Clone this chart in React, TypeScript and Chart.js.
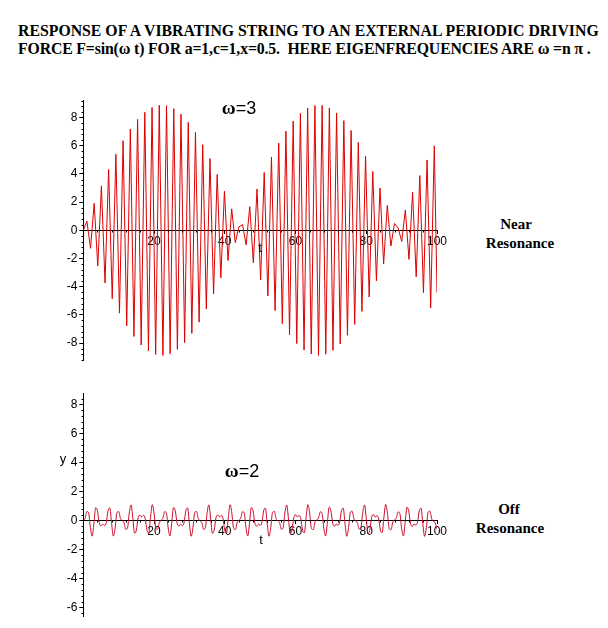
import React, { useEffect, useRef } from "react";
import { Chart, registerables } from "chart.js";

Chart.register(...registerables);

// ---------- data ----------
// Near resonance (omega = 3): successive extremes of the response
const TOP_T = [0, 1.02, 2.05, 3.07, 4.09, 5.12, 6.14, 7.16, 8.18, 9.21, 10.23, 11.25, 12.28, 13.3, 14.32, 15.35, 16.37, 17.39, 18.42, 19.44, 20.46, 21.48, 22.51, 23.53, 24.55, 25.58, 26.6, 27.62, 28.65, 29.67, 30.69, 31.71, 32.74, 33.76, 34.78, 35.81, 36.83, 37.85, 38.88, 39.9, 40.92, 41.95, 42.97, 43.99, 45.01, 46.04, 47.06, 48.08, 49.11, 50.13, 51.15, 52.18, 53.2, 54.22, 55.25, 56.27, 57.29, 58.31, 59.34, 60.36, 61.38, 62.41, 63.43, 64.45, 65.48, 66.5, 67.52, 68.55, 69.57, 70.59, 71.61, 72.64, 73.66, 74.68, 75.71, 76.73, 77.75, 78.78, 79.8, 80.82, 81.84, 82.87, 83.89, 84.91, 85.94, 86.96, 87.98, 89.01, 90.03, 91.05, 92.08, 93.1, 94.12, 95.14, 96.17, 97.19, 98.21, 99.24, 100];
const TOP_Y = [0, 0.64, -1.28, 1.91, -2.54, 3.15, -3.74, 4.31, -4.86, 5.39, -5.88, 6.35, -6.78, 7.18, -7.54, 7.86, -8.14, 8.37, -8.56, 8.71, -8.81, 8.87, -8.88, 8.84, -8.76, 8.63, -8.45, 8.23, -7.97, 7.66, -7.32, 6.94, -6.52, 6.07, -5.59, 5.08, -4.52, 3.96, -3.37, 2.77, -2.15, 1.52, -0.88, 0.24, 0.4, -1.04, 1.68, -2.31, 2.92, -3.52, 4.1, -4.66, 5.19, -5.7, 6.18, -6.63, 7.03, -7.41, 7.74, -8.04, 8.29, -8.5, 8.66, -8.78, 8.85, -8.88, 8.86, -8.79, 8.68, -8.52, 8.32, -8.07, 7.78, -7.45, 7.08, -6.68, 6.24, -5.76, 5.26, -4.74, 4.17, -3.59, 3.0, -2.39, 1.76, -1.12, 0.48, 0.16, -0.8, 1.44, -2.07, 2.7, -3.3, 3.88, -4.44, 4.99, -5.51, 5.99, -4.43];

// Off resonance (omega = 2): samples every half unit of t
const BOTTOM_T = [0, 0.5, 1, 1.5, 2, 2.5, 3, 3.5, 4, 4.5, 5, 5.5, 6, 6.5, 7, 7.5, 8, 8.5, 9, 9.5, 10, 10.5, 11, 11.5, 12, 12.5, 13, 13.5, 14, 14.5, 15, 15.5, 16, 16.5, 17, 17.5, 18, 18.5, 19, 19.5, 20, 20.5, 21, 21.5, 22, 22.5, 23, 23.5, 24, 24.5, 25, 25.5, 26, 26.5, 27, 27.5, 28, 28.5, 29, 29.5, 30, 30.5, 31, 31.5, 32, 32.5, 33, 33.5, 34, 34.5, 35, 35.5, 36, 36.5, 37, 37.5, 38, 38.5, 39, 39.5, 40, 40.5, 41, 41.5, 42, 42.5, 43, 43.5, 44, 44.5, 45, 45.5, 46, 46.5, 47, 47.5, 48, 48.5, 49, 49.5, 50, 50.5, 51, 51.5, 52, 52.5, 53, 53.5, 54, 54.5, 55, 55.5, 56, 56.5, 57, 57.5, 58, 58.5, 59, 59.5, 60, 60.5, 61, 61.5, 62, 62.5, 63, 63.5, 64, 64.5, 65, 65.5, 66, 66.5, 67, 67.5, 68, 68.5, 69, 69.5, 70, 70.5, 71, 71.5, 72, 72.5, 73, 73.5, 74, 74.5, 75, 75.5, 76, 76.5, 77, 77.5, 78, 78.5, 79, 79.5, 80, 80.5, 81, 81.5, 82, 82.5, 83, 83.5, 84, 84.5, 85, 85.5, 86, 86.5, 87, 87.5, 88, 88.5, 89, 89.5, 90, 90.5, 91, 91.5, 92, 92.5, 93, 93.5, 94, 94.5, 95, 95.5, 96, 96.5, 97, 97.5, 98, 98.5, 99, 99.5, 100];
const BOTTOM_Y = [
  0, 0.14, 0.62, 0.53, -0.51, -1.08, -0.19, 0.88, 0.67, -0.15,
  -0.37, -0.25, -0.36, -0.14, 0.67, 0.87, -0.2, -1.08, -0.51, 0.53,
  0.62, 0.14, -0.01, -0.15, -0.62, -0.52, 0.52, 1.08, 0.18, -0.88,
  -0.67, 0.16, 0.37, 0.25, 0.36, 0.14, -0.67, -0.87, 0.2, 1.09,
  0.51, -0.54, -0.62, -0.14, 0.01, 0.15, 0.61, 0.51, -0.52, -1.08,
  -0.18, 0.89, 0.67, -0.16, -0.38, -0.25, -0.35, -0.13, 0.68, 0.86,
  -0.21, -1.09, -0.5, 0.54, 0.63, 0.13, -0.02, -0.15, -0.61, -0.51,
  0.53, 1.08, 0.17, -0.89, -0.67, 0.17, 0.38, 0.25, 0.35, 0.13,
  -0.68, -0.86, 0.21, 1.09, 0.5, -0.55, -0.63, -0.13, 0.02, 0.15,
  0.61, 0.5, -0.53, -1.07, -0.17, 0.89, 0.67, -0.17, -0.39, -0.25,
  -0.34, -0.12, 0.68, 0.85, -0.22, -1.09, -0.49, 0.56, 0.63, 0.13,
  -0.03, -0.16, -0.61, -0.5, 0.53, 1.07, 0.16, -0.9, -0.67, 0.18,
  0.4, 0.25, 0.34, 0.12, -0.68, -0.85, 0.22, 1.09, 0.49, -0.56,
  -0.63, -0.12, 0.04, 0.16, 0.6, 0.49, -0.54, -1.07, -0.16, 0.9,
  0.67, -0.18, -0.4, -0.25, -0.33, -0.11, 0.68, 0.84, -0.23, -1.09,
  -0.49, 0.57, 0.64, 0.12, -0.04, -0.17, -0.6, -0.48, 0.54, 1.07,
  0.15, -0.91, -0.67, 0.19, 0.41, 0.25, 0.33, 0.11, -0.68, -0.84,
  0.24, 1.1, 0.48, -0.57, -0.64, -0.12, 0.05, 0.17, 0.6, 0.48,
  -0.55, -1.07, -0.14, 0.91, 0.67, -0.19, -0.41, -0.25, -0.32, -0.1,
  0.68, 0.84, -0.24, -1.1, -0.48, 0.58, 0.64, 0.11, -0.05, -0.17,
  -0.6,
];

const X_TICKS = [20, 40, 60, 80, 100];
const TOP_Y_TICKS = [-8, -6, -4, -2, 0, 2, 4, 6, 8];
const BOTTOM_Y_TICKS = [-6, -4, -2, 0, 2, 4, 6, 8];

// ---------- styling ----------
const OFFSET = 8; // body margin
const TICK_FONT = { family: "'Liberation Sans', Arial, sans-serif", size: 12 };
const SERIF = "'Liberation Serif', 'Times New Roman', serif";
const SANS = "'Liberation Sans', Arial, sans-serif";

const minorTicksPlugin = {
  id: "minorTicks",
  afterDraw(chart: any, _args: any, opts: any) {
    const { ctx, scales, chartArea } = chart;
    const xs = scales.x;
    const ys = scales.y;
    const ax = Math.round(chartArea.left) + 0.5;
    const ay = Math.round(ys.getPixelForValue(0)) + 0.5;
    ctx.save();
    ctx.strokeStyle = "#000";
    ctx.lineWidth = 1;
    ctx.beginPath();
    const yStep = opts.yStep as number;
    for (let v = Math.ceil(ys.min / yStep) * yStep; v <= ys.max; v += yStep) {
      const r = Math.round(v * 10) / 10;
      if (Math.abs(r / 2 - Math.round(r / 2)) < 1e-6) continue;
      const py = Math.round(ys.getPixelForValue(r)) + 0.5;
      ctx.moveTo(ax - 2, py);
      ctx.lineTo(ax, py);
    }
    const xStep = opts.xStep as number;
    for (let v = xStep; v < xs.max; v += xStep) {
      if (v % 20 === 0) continue;
      const px = Math.round(xs.getPixelForValue(v)) + 0.5;
      ctx.moveTo(px, ay);
      ctx.lineTo(px, ay + 2);
    }
    ctx.stroke();
    ctx.restore();
  },
};

type Box = { left: number; top: number; width: number; height: number };
type Area = { left: number; top: number; right: number; bottom: number };

function Plot(props: {
  xs: number[];
  ys: number[];
  yMin: number;
  yMax: number;
  yTicks: number[];
  color: string;
  smooth: boolean;
  box: Box;
  area: Area;
}) {
  const ref = useRef<HTMLCanvasElement>(null);
  const { box } = props;
  useEffect(() => {
    const p = props;
    const chart = new Chart(ref.current as HTMLCanvasElement, {
      type: "line",
      data: {
        datasets: [
          {
            data: p.xs.map((x, i) => ({ x, y: p.ys[i] })),
            borderColor: p.color,
            borderWidth: 1,
            pointRadius: 0,
            fill: false,
            tension: p.smooth ? 0.4 : 0,
            cubicInterpolationMode: p.smooth ? "monotone" : "default",
          } as any,
        ],
      },
      options: {
        animation: false,
        responsive: false,
        events: [],
        layout: {
          padding: {
            left: 0,
            top: p.area.top - p.box.top,
            right: p.box.left + p.box.width - p.area.right,
            bottom: p.box.top + p.box.height - p.area.bottom,
          },
        },
        plugins: {
          legend: { display: false },
          tooltip: { enabled: false },
          minorTicks: { yStep: 0.4, xStep: 4 },
        } as any,
        scales: {
          x: {
            type: "linear",
            min: 0,
            max: 100,
            position: { y: 0 } as any,
            afterBuildTicks: (s: any) => {
              s.ticks = X_TICKS.map((v) => ({ value: v }));
            },
            ticks: { font: TICK_FONT, color: "#000", padding: 1, maxRotation: 0, autoSkip: false },
            grid: { drawOnChartArea: false, tickLength: 3, color: "#000" },
            border: { color: "#000", width: 1 },
          },
          y: {
            type: "linear",
            min: p.yMin,
            max: p.yMax,
            position: "left",
            afterBuildTicks: (s: any) => {
              s.ticks = p.yTicks.map((v) => ({ value: v }));
            },
            afterFit: (s: any) => {
              s.width = p.area.left - p.box.left;
            },
            ticks: { font: TICK_FONT, color: "#000", padding: 2, autoSkip: false },
            grid: { drawOnChartArea: false, tickLength: 4, color: "#000" },
            border: { color: "#000", width: 1 },
          },
        },
      },
      plugins: [minorTicksPlugin],
    });
    return () => chart.destroy();
  }, []);
  return (
    <canvas
      ref={ref}
      width={box.width}
      height={box.height}
      style={{
        position: "absolute",
        left: box.left - OFFSET,
        top: box.top - OFFSET,
        width: box.width,
        height: box.height,
      }}
    />
  );
}

function Label(props: { x: number; y: number; children: React.ReactNode; style?: React.CSSProperties }) {
  return (
    <div
      style={{
        position: "absolute",
        left: props.x - OFFSET,
        top: props.y - OFFSET,
        transform: "translate(-50%, -50%)",
        whiteSpace: "nowrap",
        lineHeight: 1,
        ...props.style,
      }}
    >
      {props.children}
    </div>
  );
}

const bold15: React.CSSProperties = { fontFamily: SERIF, fontWeight: "bold", fontSize: 15, color: "#000" };
const omegaStyle: React.CSSProperties = { fontFamily: SERIF, fontWeight: "bold", fontSize: 19 };
const eqStyle: React.CSSProperties = { fontFamily: SANS, fontSize: 18 };

export default function App() {
  return (
    <div style={{ position: "relative", width: 592, height: 612, background: "#fff" }}>
      <div
        style={{
          position: "absolute",
          left: 18 - OFFSET,
          top: 22 - OFFSET,
          fontFamily: SERIF,
          fontWeight: "bold",
          fontSize: 15.8,
          lineHeight: "18px",
          whiteSpace: "pre",
          color: "#000",
        }}
      >
        <div>RESPONSE OF A VIBRATING STRING TO AN EXTERNAL PERIODIC DRIVING</div>
        <div style={{ letterSpacing: -0.15 }}>
          FORCE F=sin(<span style={{ fontSize: 16 }}>ω</span> t) FOR a=1,c=1,x=0.5.{"  "}HERE EIGENFREQUENCIES ARE{" "}
          <span style={{ fontSize: 16 }}>ω</span> =n <span style={{ fontSize: 16 }}>π</span> .
        </div>
      </div>

      <Plot
        xs={TOP_T}
        ys={TOP_Y}
        yMin={-9.24}
        yMax={9.24}
        yTicks={TOP_Y_TICKS}
        color="#dc0000"
        smooth={false}
        box={{ left: 30, top: 88, width: 440, height: 292 }}
        area={{ left: 83.3, top: 100, right: 437, bottom: 360.5 }}
      />
      <Plot
        xs={BOTTOM_T}
        ys={BOTTOM_Y}
        yMin={-6.65}
        yMax={8.8}
        yTicks={BOTTOM_Y_TICKS}
        color="#cc0a2a"
        smooth={true}
        box={{ left: 30, top: 380, width: 440, height: 246 }}
        area={{ left: 83.3, top: 393, right: 437, bottom: 617 }}
      />

      <Label x={239} y={107}>
        <span style={omegaStyle}>ω</span>
        <span style={eqStyle}>=3</span>
      </Label>
      <Label x={242} y={470}>
        <span style={omegaStyle}>ω</span>
        <span style={eqStyle}>=2</span>
      </Label>

      <Label x={516} y={224} style={bold15}>Near</Label>
      <Label x={520} y={243} style={bold15}>Resonance</Label>
      <Label x={509} y={509} style={bold15}>Off</Label>
      <Label x={510} y={528} style={bold15}>Resonance</Label>

      <Label x={260} y={247} style={{ fontFamily: SANS, fontSize: 13 }}>t</Label>
      <Label x={261} y={539} style={{ fontFamily: SANS, fontSize: 13 }}>t</Label>
      <Label x={63} y={458} style={{ fontFamily: SANS, fontSize: 13 }}>y</Label>
    </div>
  );
}
